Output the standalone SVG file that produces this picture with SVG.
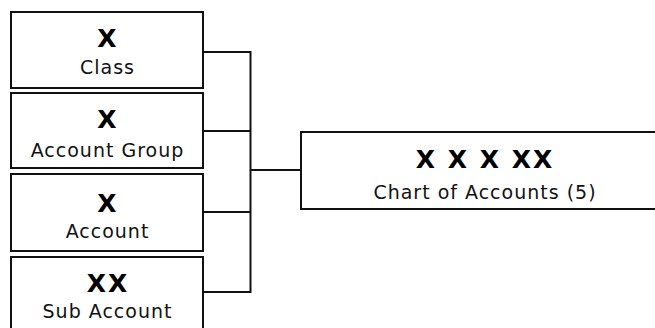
<svg xmlns="http://www.w3.org/2000/svg" width="655" height="328" viewBox="0 0 655 328">
<style>
.box{fill:#fff;stroke:#111;stroke-width:2}
.code{font-family:"DejaVu Sans",Verdana,sans-serif;font-weight:bold;font-size:25px;letter-spacing:2px;fill:#000;text-anchor:middle}
.lbl{font-family:"DejaVu Sans",Verdana,sans-serif;font-size:19px;letter-spacing:1px;fill:#111;text-anchor:middle}
.conn{fill:none;stroke:#111;stroke-width:2}
</style>
<rect width="655" height="328" fill="#fff"/>
<g id="connectors">
<path class="conn" d="M203 52H250.5M203 131H250.5M203 212H250.5M203 292H250.5M250.5 51V293M250.5 170H301"/>
</g>
<g id="class">
<rect class="box" x="11" y="12" width="192" height="76"/>
<text class="code" x="108" y="47">X</text>
<text class="lbl" x="107.5" y="74">Class</text>
</g>
<g id="account-group">
<rect class="box" x="11" y="93" width="192" height="75"/>
<text class="code" x="108" y="128">X</text>
<text class="lbl" x="107.5" y="157">Account Group</text>
</g>
<g id="account">
<rect class="box" x="11" y="174" width="192" height="77"/>
<text class="code" x="108" y="212">X</text>
<text class="lbl" x="107.5" y="238">Account</text>
</g>
<g id="sub-account">
<rect class="box" x="11" y="257" width="192" height="77"/>
<text class="code" x="108" y="292">XX</text>
<text class="lbl" x="107.5" y="318">Sub Account</text>
</g>
<g id="chart-of-accounts">
<rect class="box" x="301" y="132" width="370" height="77"/>
<text class="code" x="485" y="168">X X X XX</text>
<text class="lbl" x="485" y="199">Chart of Accounts (5)</text>
</g>
</svg>
